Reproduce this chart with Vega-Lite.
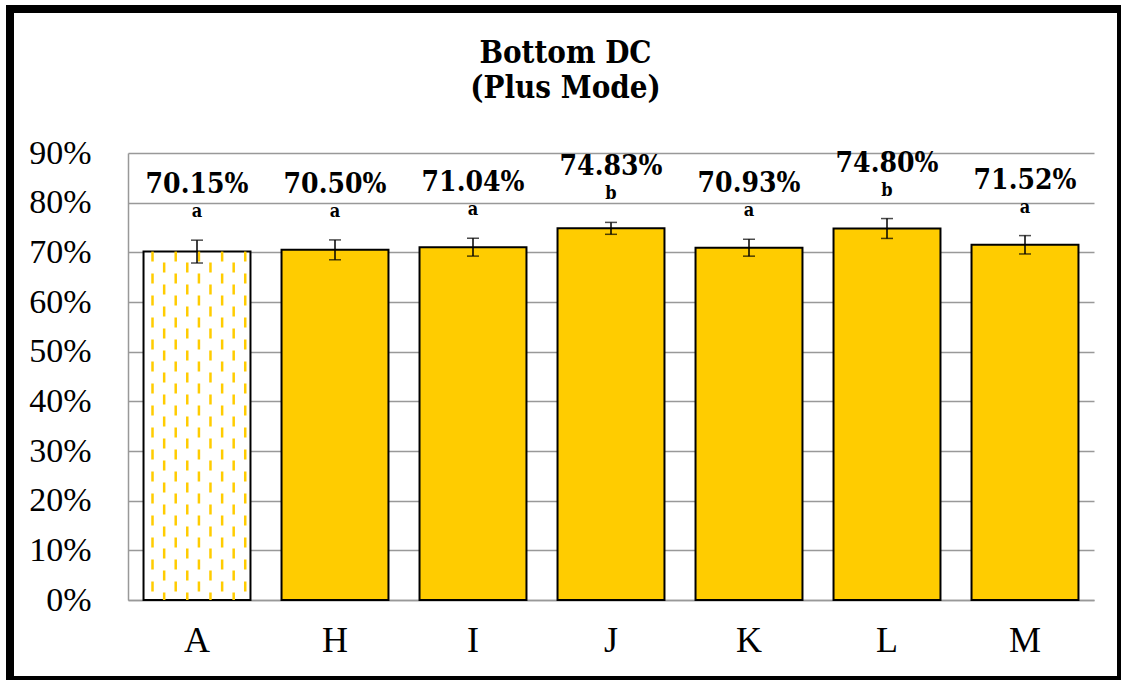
{
  "$schema": "https://vega.github.io/schema/vega-lite/v6.json",
  "autosize": "none",
  "width": 1111,
  "height": 671,
  "padding": {"left": 10, "top": 9, "right": 0, "bottom": 0},
  "background": "white",
  "title": {
    "text": ["Bottom DC", "(Plus Mode)"],
    "font": "DejaVu Serif Condensed",
    "fontSize": 31,
    "fontWeight": "bold",
    "color": "black",
    "lineHeight": 35,
    "anchor": "middle",
    "baseline": "top",
    "offset": -96
  },
  "config": {
    "view": {"stroke": "black", "strokeWidth": 8},
    "font": "Liberation Serif"
  },
  "datasets": {
    "bars": [
      {"cat": "A", "value": 0.7015, "lo": 0.6785, "hi": 0.7245, "grp": "a"},
      {"cat": "H", "value": 0.7050, "lo": 0.6850, "hi": 0.7250, "grp": "a"},
      {"cat": "I", "value": 0.7104, "lo": 0.6924, "hi": 0.7284, "grp": "a"},
      {"cat": "J", "value": 0.7483, "lo": 0.7363, "hi": 0.7603, "grp": "b"},
      {"cat": "K", "value": 0.7093, "lo": 0.6923, "hi": 0.7263, "grp": "a"},
      {"cat": "L", "value": 0.7480, "lo": 0.7280, "hi": 0.7680, "grp": "b"},
      {"cat": "M", "value": 0.7152, "lo": 0.6967, "hi": 0.7337, "grp": "a"}
    ]
  },
  "data": {"name": "bars"},
  "layer": [
    {
      "mark": {"type": "bar", "stroke": "black", "strokeWidth": 2},
      "encoding": {
        "x": {
          "field": "cat", "type": "nominal", "sort": null, "title": null,
          "scale": {"range": [118, 1084], "paddingInner": 0.225, "paddingOuter": 0.1125},
          "axis": {
            "labelAngle": 0, "labelFont": "Liberation Serif", "labelFontSize": 36,
            "labelColor": "black", "ticks": false, "domain": true,
            "domainColor": "#999999", "domainWidth": 1.5, "labelPadding": 23,
            "offset": -80, "grid": false
          }
        },
        "y": {
          "field": "value", "type": "quantitative", "title": null,
          "scale": {"domain": [0, 0.9], "range": [591, 144], "nice": false, "zero": true},
          "axis": {
            "format": ".0%", "values": [0, 0.1, 0.2, 0.3, 0.4, 0.5, 0.6, 0.7, 0.8, 0.9],
            "labelFont": "Liberation Serif", "labelFontSize": 34, "labelColor": "black",
            "ticks": false, "domainColor": "#999999", "domainWidth": 1.5,
            "grid": true, "gridColor": "#999999", "gridWidth": 1.5,
            "labelPadding": 37, "offset": -118
          }
        },
        "fill": {
          "condition": {"test": "datum.cat === 'A'", "value": "white"},
          "value": "#FFCC00"
        }
      }
    },
    {
      "transform": [{"filter": "datum.cat === 'A'"}],
      "layer": [
        {"mark": {"type": "rule", "color": "#FFCC00", "strokeWidth": 2.5, "strokeDash": [10, 12], "strokeDashOffset": 0},
         "encoding": {"x": {"field": "cat", "type": "nominal", "sort": null, "bandPosition": 0.084}, "y": {"field": "value", "type": "quantitative", "title": null}, "y2": {"datum": 0}}},
        {"mark": {"type": "rule", "color": "#FFCC00", "strokeWidth": 2.5, "strokeDash": [10, 12], "strokeDashOffset": 11},
         "encoding": {"x": {"field": "cat", "type": "nominal", "sort": null, "bandPosition": 0.193}, "y": {"field": "value", "type": "quantitative", "title": null}, "y2": {"datum": 0}}},
        {"mark": {"type": "rule", "color": "#FFCC00", "strokeWidth": 2.5, "strokeDash": [10, 12], "strokeDashOffset": 0},
         "encoding": {"x": {"field": "cat", "type": "nominal", "sort": null, "bandPosition": 0.301}, "y": {"field": "value", "type": "quantitative", "title": null}, "y2": {"datum": 0}}},
        {"mark": {"type": "rule", "color": "#FFCC00", "strokeWidth": 2.5, "strokeDash": [10, 12], "strokeDashOffset": 11},
         "encoding": {"x": {"field": "cat", "type": "nominal", "sort": null, "bandPosition": 0.409}, "y": {"field": "value", "type": "quantitative", "title": null}, "y2": {"datum": 0}}},
        {"mark": {"type": "rule", "color": "#FFCC00", "strokeWidth": 2.5, "strokeDash": [10, 12], "strokeDashOffset": 0},
         "encoding": {"x": {"field": "cat", "type": "nominal", "sort": null, "bandPosition": 0.518}, "y": {"field": "value", "type": "quantitative", "title": null}, "y2": {"datum": 0}}},
        {"mark": {"type": "rule", "color": "#FFCC00", "strokeWidth": 2.5, "strokeDash": [10, 12], "strokeDashOffset": 11},
         "encoding": {"x": {"field": "cat", "type": "nominal", "sort": null, "bandPosition": 0.626}, "y": {"field": "value", "type": "quantitative", "title": null}, "y2": {"datum": 0}}},
        {"mark": {"type": "rule", "color": "#FFCC00", "strokeWidth": 2.5, "strokeDash": [10, 12], "strokeDashOffset": 0},
         "encoding": {"x": {"field": "cat", "type": "nominal", "sort": null, "bandPosition": 0.735}, "y": {"field": "value", "type": "quantitative", "title": null}, "y2": {"datum": 0}}},
        {"mark": {"type": "rule", "color": "#FFCC00", "strokeWidth": 2.5, "strokeDash": [10, 12], "strokeDashOffset": 11},
         "encoding": {"x": {"field": "cat", "type": "nominal", "sort": null, "bandPosition": 0.843}, "y": {"field": "value", "type": "quantitative", "title": null}, "y2": {"datum": 0}}},
        {"mark": {"type": "rule", "color": "#FFCC00", "strokeWidth": 2.5, "strokeDash": [10, 12], "strokeDashOffset": 0},
         "encoding": {"x": {"field": "cat", "type": "nominal", "sort": null, "bandPosition": 0.951}, "y": {"field": "value", "type": "quantitative", "title": null}, "y2": {"datum": 0}}}
      ]
    },
    {
      "mark": {
        "type": "errorbar",
        "ticks": {"size": 12, "thickness": 1.5, "color": "black"},
        "rule": {"strokeWidth": 1.5, "color": "black"}
      },
      "encoding": {
        "x": {"field": "cat", "type": "nominal", "sort": null, "title": null},
        "y": {"field": "lo", "type": "quantitative", "title": null},
        "y2": {"field": "hi"}
      }
    },
    {
      "mark": {"type": "text", "font": "DejaVu Serif Condensed", "fontWeight": "bold", "fontSize": 18, "baseline": "alphabetic", "dy": -23, "color": "black"},
      "encoding": {
        "x": {"field": "cat", "type": "nominal", "sort": null, "title": null},
        "y": {"field": "hi", "type": "quantitative", "title": null},
        "text": {"field": "grp", "type": "nominal"}
      }
    },
    {
      "mark": {"type": "text", "font": "DejaVu Serif Condensed", "fontWeight": "bold", "fontSize": 28, "baseline": "alphabetic", "dy": -47, "color": "black"},
      "encoding": {
        "x": {"field": "cat", "type": "nominal", "sort": null, "title": null},
        "y": {"field": "hi", "type": "quantitative", "title": null},
        "text": {"field": "value", "type": "quantitative", "format": ".2%"}
      }
    }
  ]
}
